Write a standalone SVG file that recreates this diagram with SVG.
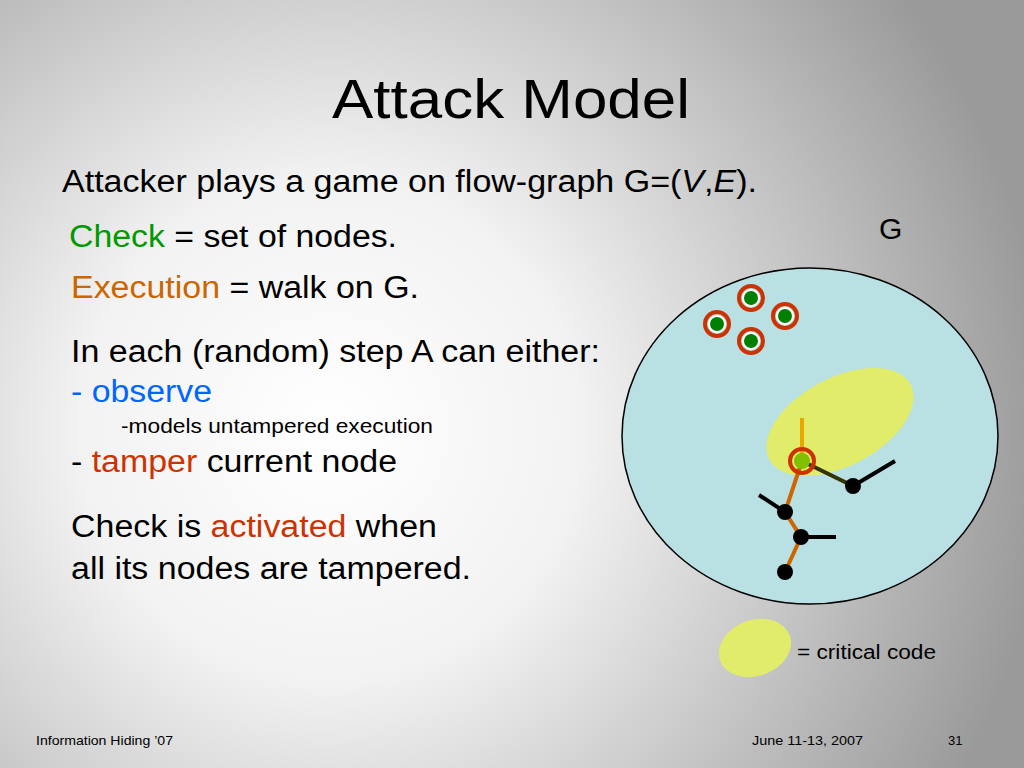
<svg xmlns="http://www.w3.org/2000/svg" width="1024" height="768" viewBox="0 0 1024 768">
<defs>
<radialGradient id="bg" cx="330" cy="430" r="720" gradientUnits="userSpaceOnUse">
<stop offset="0" stop-color="#ffffff"/><stop offset="0.35" stop-color="#f2f2f2"/><stop offset="1" stop-color="#9a9a9a"/>
</radialGradient>
<style>
text{font-family:"Liberation Sans",Arial,sans-serif;fill:#000}
.chk{fill:none;stroke:#cc3300;stroke-width:4}
.gn{fill:#008000;stroke:#fff;stroke-width:2}
.bn{fill:#000}
.eb{stroke:#000;stroke-width:4}
.eo{stroke:#cc6600;stroke-width:4}
</style>
</defs>
<rect width="1024" height="768" fill="url(#bg)"/>
<text x="332" y="118" font-size="56" textLength="358" lengthAdjust="spacingAndGlyphs">Attack Model</text>
<text x="62" y="192" font-size="31" textLength="695" lengthAdjust="spacingAndGlyphs">Attacker plays a game on flow-graph G=(<tspan font-style="italic">V</tspan>,<tspan font-style="italic">E</tspan>).</text>
<text x="69" y="247" font-size="31" textLength="328" lengthAdjust="spacingAndGlyphs"><tspan style="fill:#009900">Check</tspan> = set of nodes.</text>
<text x="71" y="298" font-size="31" textLength="348" lengthAdjust="spacingAndGlyphs"><tspan style="fill:#cc6600">Execution</tspan> = walk on G.</text>
<text x="71" y="362" font-size="31" textLength="529" lengthAdjust="spacingAndGlyphs">In each (random) step A can either:</text>
<text x="71" y="402" font-size="31" textLength="141" lengthAdjust="spacingAndGlyphs" style="fill:#0066ff">- observe</text>
<text x="121" y="433" font-size="20" textLength="312" lengthAdjust="spacingAndGlyphs">-models untampered execution</text>
<text x="71" y="472" font-size="31" textLength="326" lengthAdjust="spacingAndGlyphs">- <tspan style="fill:#cc3300">tamper</tspan> current node</text>
<text x="71" y="537" font-size="31" textLength="366" lengthAdjust="spacingAndGlyphs">Check is <tspan style="fill:#cc3300">activated</tspan> when</text>
<text x="71" y="579" font-size="31" textLength="400" lengthAdjust="spacingAndGlyphs">all its nodes are tampered.</text>
<text x="879" y="239" font-size="30">G</text>
<g id="graph">
<ellipse cx="810" cy="436" rx="188" ry="168" fill="#b9e0e3" stroke="#000" stroke-width="1.5"/>
<ellipse cx="840" cy="422" rx="80" ry="44" transform="rotate(-28 840 422)" fill="#e1ec6a"/>
</g>
<g id="connectors">
<line class="eo" x1="802" y1="418" x2="802" y2="461" style="stroke:#e8a800"/>
<polyline class="eo" fill="none" points="802,461 785,512 801,537 785,572"/>
<line class="eb" x1="802" y1="461" x2="853" y2="486" style="stroke:#333300"/>
<line class="eb" x1="853" y1="486" x2="895" y2="461"/>
<line class="eb" x1="785" y1="512" x2="759" y2="495"/>
<line class="eb" x1="801" y1="537" x2="836" y2="537"/>
</g>
<g id="check-nodes">
<circle class="gn" cx="751" cy="298" r="8"/><circle class="chk" cx="751" cy="298" r="12"/>
<circle class="gn" cx="717" cy="324" r="8"/><circle class="chk" cx="717" cy="324" r="12"/>
<circle class="gn" cx="785" cy="316" r="8"/><circle class="chk" cx="785" cy="316" r="12"/>
<circle class="gn" cx="751" cy="341" r="8"/><circle class="chk" cx="751" cy="341" r="12"/>
</g>
<g id="walk-nodes">
<circle cx="802" cy="461" r="8" fill="#80c000"/><circle class="chk" cx="802" cy="461" r="12"/>
<circle class="bn" cx="853" cy="486" r="8"/>
<circle class="bn" cx="785" cy="512" r="8"/>
<circle class="bn" cx="801" cy="537" r="8"/>
<circle class="bn" cx="785" cy="572" r="8"/>
</g>
<g id="legend">
<ellipse cx="755" cy="648" rx="37" ry="28" transform="rotate(-20 755 648)" fill="#e1ec6a"/>
<text x="797" y="659" font-size="20" textLength="139" lengthAdjust="spacingAndGlyphs">= critical code</text>
</g>
<text x="36" y="745" font-size="13" textLength="137" lengthAdjust="spacingAndGlyphs">Information Hiding ’07</text>
<text x="752" y="745" font-size="13" textLength="111" lengthAdjust="spacingAndGlyphs">June 11-13, 2007</text>
<text x="948" y="745" font-size="13">31</text>
</svg>
